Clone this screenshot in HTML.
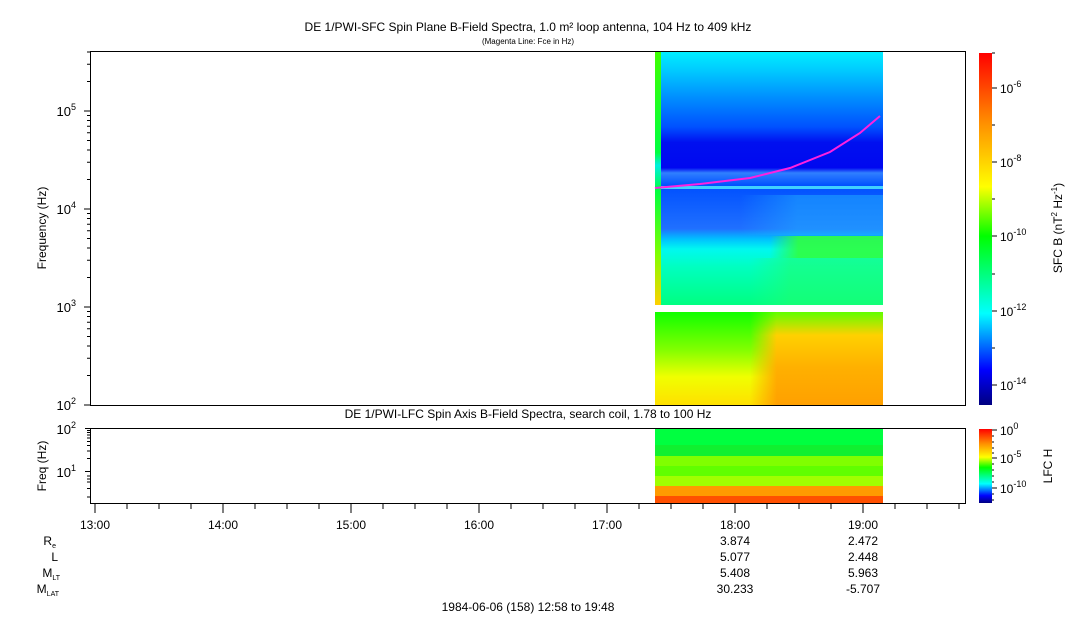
<!DOCTYPE html>
<html><head><meta charset="utf-8"><style>
body{margin:0;background:#fff;}
svg{display:block;font-family:"Liberation Sans",sans-serif;}
</style></head><body>
<svg width="1083" height="620" xmlns="http://www.w3.org/2000/svg">
<defs>
<linearGradient id="up" x1="0" y1="0" x2="0" y2="1">
<stop offset="0" stop-color="#00f0ff"/><stop offset="0.08" stop-color="#00c8ff"/>
<stop offset="0.18" stop-color="#0090ff"/><stop offset="0.3" stop-color="#0050ff"/>
<stop offset="0.36" stop-color="#0010f0"/><stop offset="0.46" stop-color="#0008f0"/>
<stop offset="0.48" stop-color="#3080ff"/><stop offset="0.53" stop-color="#0050ff"/>
<stop offset="0.7" stop-color="#2070ff"/><stop offset="0.74" stop-color="#00c0ff"/>
<stop offset="0.78" stop-color="#00f8f0"/><stop offset="0.85" stop-color="#00ffc0"/>
<stop offset="1" stop-color="#00ff80"/></linearGradient>
<linearGradient id="lo" x1="0" y1="0" x2="0" y2="1">
<stop offset="0" stop-color="#10ff00"/><stop offset="0.4" stop-color="#80ff00"/>
<stop offset="0.7" stop-color="#f0ff00"/><stop offset="1" stop-color="#ffe000"/></linearGradient>
<linearGradient id="lor" x1="0" y1="0" x2="0" y2="1">
<stop offset="0" stop-color="#60ff00"/><stop offset="0.25" stop-color="#ffd000"/>
<stop offset="0.6" stop-color="#ffb000"/><stop offset="1" stop-color="#ffa000"/></linearGradient>
<linearGradient id="fadeH" x1="0" y1="0" x2="1" y2="0">
<stop offset="0" stop-color="#fff" stop-opacity="0"/><stop offset="0.3" stop-color="#fff" stop-opacity="1"/><stop offset="1" stop-color="#fff" stop-opacity="1"/></linearGradient>
<mask id="mfade"><rect x="0" y="0" width="1083" height="620" fill="url(#fadeH)"/></mask>
<linearGradient id="grn" x1="0" y1="0" x2="1" y2="0">
<stop offset="0" stop-color="#30ff40" stop-opacity="0"/><stop offset="0.25" stop-color="#30ff40" stop-opacity="0.9"/><stop offset="1" stop-color="#30ff40" stop-opacity="0.9"/></linearGradient>
<linearGradient id="grn2" x1="0" y1="0" x2="1" y2="0">
<stop offset="0" stop-color="#20ff80" stop-opacity="0"/><stop offset="0.3" stop-color="#20ff70" stop-opacity="0.6"/><stop offset="1" stop-color="#20ff70" stop-opacity="0.6"/></linearGradient>
<linearGradient id="blu" x1="0" y1="0" x2="1" y2="0">
<stop offset="0" stop-color="#20b0ff" stop-opacity="0"/><stop offset="0.4" stop-color="#20b0ff" stop-opacity="0.5"/><stop offset="1" stop-color="#20b0ff" stop-opacity="0.5"/></linearGradient>
<linearGradient id="orH" x1="0" y1="0" x2="1" y2="0">
<stop offset="0" stop-color="#fff" stop-opacity="0"/><stop offset="0.2" stop-color="#fff" stop-opacity="1"/><stop offset="1" stop-color="#fff" stop-opacity="1"/></linearGradient>
<mask id="mor"><rect x="750" y="312" width="133" height="93" fill="url(#orH)"/></mask>
<linearGradient id="cb" x1="0" y1="1" x2="0" y2="0">
<stop offset="0" stop-color="#000080"/><stop offset="0.1" stop-color="#0000ff"/>
<stop offset="0.26" stop-color="#00ffff"/><stop offset="0.48" stop-color="#00ff00"/>
<stop offset="0.62" stop-color="#ffff00"/><stop offset="0.8" stop-color="#ff9000"/>
<stop offset="1" stop-color="#ff0000"/></linearGradient>
<linearGradient id="strip" x1="0" y1="0" x2="0" y2="1">
<stop offset="0" stop-color="#40ff00"/><stop offset="0.4" stop-color="#00ff40"/>
<stop offset="0.45" stop-color="#00f0e0"/><stop offset="0.55" stop-color="#00ff40"/>
<stop offset="0.8" stop-color="#80ff00"/><stop offset="1" stop-color="#ffd000"/></linearGradient>
</defs>
<text x="528" y="31" font-size="12" text-anchor="middle">DE 1/PWI-SFC  Spin Plane B-Field Spectra, 1.0 m² loop antenna, 104 Hz to 409 kHz</text>
<text x="528" y="44" font-size="8" text-anchor="middle">(Magenta Line: Fce in Hz)</text>
<!-- upper spectrogram -->
<rect x="655" y="51" width="228" height="254" fill="url(#up)"/>
<rect x="740" y="195" width="143" height="40" fill="url(#blu)"/>
<rect x="770" y="236" width="113" height="22" fill="url(#grn)"/>
<rect x="750" y="258" width="133" height="47" fill="url(#grn2)"/>
<rect x="655" y="186" width="228" height="3" fill="#40d0ff"/>
<rect x="655" y="51" width="6" height="254" fill="url(#strip)"/>
<rect x="655" y="312" width="228" height="93" fill="url(#lo)"/>
<rect x="750" y="312" width="133" height="93" fill="url(#lor)" mask="url(#mor)"/>
<path d="M655,188 L700,184 L750,178 L790,168 L830,152 L860,133 L880,116" fill="none" stroke="#ff20e0" stroke-width="2"/>
<!-- main frame -->
<rect x="90.5" y="51.5" width="875" height="354" fill="none" stroke="#000"/>
<g stroke="#000">
<line x1="84" y1="405" x2="90" y2="405"/><line x1="84" y1="307" x2="90" y2="307"/><line x1="84" y1="209" x2="90" y2="209"/><line x1="84" y1="111" x2="90" y2="111"/>
<path d="M87,375.5h3M87,358.3h3M87,346h3M87,336.5h3M87,328.7h3M87,322.2h3M87,316.5h3M87,311.5h3M87,277.5h3M87,260.3h3M87,248h3M87,238.5h3M87,230.7h3M87,224.2h3M87,218.5h3M87,213.5h3M87,179.5h3M87,162.3h3M87,150h3M87,140.5h3M87,132.7h3M87,126.2h3M87,120.5h3M87,115.5h3M87,81.5h3M87,64.3h3M87,52h3"/>
</g>
<g font-size="13" text-anchor="end">
<text x="76" y="410">10<tspan font-size="9" dy="-6">2</tspan></text>
<text x="76" y="312">10<tspan font-size="9" dy="-6">3</tspan></text>
<text x="76" y="214">10<tspan font-size="9" dy="-6">4</tspan></text>
<text x="76" y="116">10<tspan font-size="9" dy="-6">5</tspan></text>
</g>
<text transform="translate(46,228) rotate(-90)" font-size="12" text-anchor="middle">Frequency (Hz)</text>
<!-- colorbar -->
<rect x="979" y="53" width="13" height="352" fill="url(#cb)"/>
<g stroke="#000"><path d="M992,88h5M992,162h5M992,236h5M992,311h5M992,385h5M992,125h3M992,199h3M992,274h3M992,348h3M992,53h3"/></g>
<g font-size="12">
<text x="1000" y="93">10<tspan font-size="9" dy="-6">-6</tspan></text>
<text x="1000" y="167">10<tspan font-size="9" dy="-6">-8</tspan></text>
<text x="1000" y="241">10<tspan font-size="9" dy="-6">-10</tspan></text>
<text x="1000" y="316">10<tspan font-size="9" dy="-6">-12</tspan></text>
<text x="1000" y="390">10<tspan font-size="9" dy="-6">-14</tspan></text>
</g>
<text transform="translate(1062,228) rotate(-90)" font-size="12" text-anchor="middle">SFC B (nT<tspan font-size="8" dy="-5">2</tspan><tspan dy="5"> Hz</tspan><tspan font-size="8" dy="-5">-1</tspan><tspan dy="5">)</tspan></text>
<!-- lower panel -->
<text x="528" y="418" font-size="12" text-anchor="middle">DE 1/PWI-LFC  Spin Axis B-Field Spectra, search coil, 1.78 to 100 Hz</text>
<rect x="655" y="428" width="228" height="17" fill="#00ff40"/>
<rect x="655" y="445" width="228" height="11" fill="#10f030"/>
<rect x="655" y="456" width="228" height="10" fill="#80ff00"/>
<rect x="655" y="466" width="228" height="10" fill="#60ff00"/>
<rect x="655" y="476" width="228" height="10" fill="#a0ff00"/>
<rect x="655" y="486" width="228" height="10" fill="#ff9a00"/>
<rect x="655" y="496" width="228" height="8" fill="#ff5000"/>
<rect x="90.5" y="428.5" width="875" height="75" fill="none" stroke="#000"/>
<g stroke="#000"><path d="M85,428.5h5M85,471.5h5M87,458.5h3M87,451h3M87,445.5h3M87,441.5h3M87,438h3M87,435h3M87,432.5h3M87,430.5h3M87,488.5h3M87,497h3M87,476h3M87,482h3M87,479h3"/></g>
<g font-size="13" text-anchor="end">
<text x="76" y="434">10<tspan font-size="9" dy="-6">2</tspan></text>
<text x="76" y="477">10<tspan font-size="9" dy="-6">1</tspan></text>
</g>
<text transform="translate(46,466) rotate(-90)" font-size="12" text-anchor="middle">Freq (Hz)</text>
<rect x="979" y="429" width="13" height="74" fill="url(#cb)"/>
<g stroke="#000"><path d="M992,430h5M992,458h5M992,488h5M992,436h2M992,442h2M992,448h2M992,453h2M992,464h2M992,470h2M992,476h2M992,482h2M992,494h2M992,500h2"/></g>
<g font-size="12">
<text x="1000" y="435">10<tspan font-size="9" dy="-6">0</tspan></text>
<text x="1000" y="463">10<tspan font-size="9" dy="-6">-5</tspan></text>
<text x="1000" y="493">10<tspan font-size="9" dy="-6">-10</tspan></text>
</g>
<text transform="translate(1052,466) rotate(-90)" font-size="12" text-anchor="middle">LFC H</text>
<!-- time axis -->
<g stroke="#000">
<path d="M95,504v9M223,504v9M351,504v9M479,504v9M607,504v9M735,504v9M863,504v9"/>
<path d="M127,504v5M159,504v5M191,504v5M255,504v5M287,504v5M319,504v5M383,504v5M415,504v5M447,504v5M511,504v5M543,504v5M575,504v5M639,504v5M671,504v5M703,504v5M767,504v5M799,504v5M831,504v5M895,504v5M927,504v5M959,504v5"/>
</g>
<g font-size="12" text-anchor="middle">
<text x="95" y="529">13:00</text><text x="223" y="529">14:00</text><text x="351" y="529">15:00</text>
<text x="479" y="529">16:00</text><text x="607" y="529">17:00</text><text x="735" y="529">18:00</text><text x="863" y="529">19:00</text>
<text x="735" y="545">3.874</text><text x="863" y="545">2.472</text>
<text x="735" y="561">5.077</text><text x="863" y="561">2.448</text>
<text x="735" y="577">5.408</text><text x="863" y="577">5.963</text>
<text x="735" y="593">30.233</text><text x="863" y="593">-5.707</text>
<text x="528" y="611">1984-06-06 (158) 12:58 to 19:48</text>
</g>
<g font-size="12" text-anchor="end">
<text x="56" y="545">R<tspan font-size="7" dy="3">e</tspan></text>
<text x="58" y="561">L</text>
<text x="60" y="577">M<tspan font-size="7" dy="3">LT</tspan></text>
<text x="59" y="593">M<tspan font-size="7" dy="3">LAT</tspan></text>
</g>
</svg>
</body></html>
